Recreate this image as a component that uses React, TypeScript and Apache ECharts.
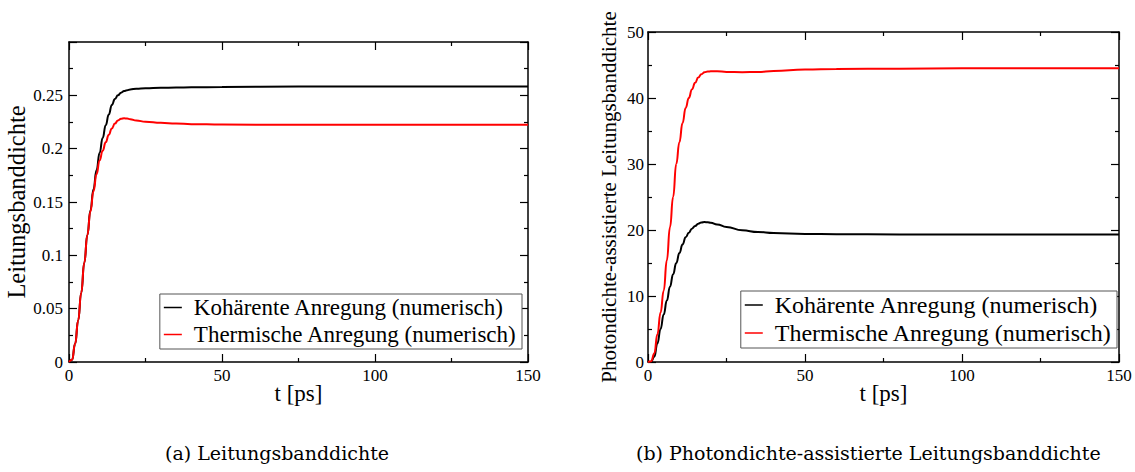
import React, { useEffect, useRef } from "react";
import * as echarts from "echarts";

// ---- data (t in ps) ----
const tLeft = [0, 1, 2, 3, 4, 5, 6, 7, 8, 9, 10, 11, 12, 13, 14, 15, 16, 17, 18, 19, 20, 22, 25, 30, 35, 40, 50, 75, 100, 150];
const leftCoherent = [0, 0.002, 0.017, 0.039, 0.065, 0.093, 0.119, 0.142, 0.162, 0.18, 0.196, 0.21, 0.222, 0.232, 0.241, 0.2465, 0.25, 0.2525, 0.254, 0.2548, 0.2555, 0.2562, 0.2566, 0.257, 0.2573, 0.2575, 0.2578, 0.2582, 0.2583, 0.2583];
const leftThermal = [0, 0.002, 0.017, 0.039, 0.065, 0.093, 0.119, 0.141, 0.16, 0.176, 0.189, 0.198, 0.206, 0.213, 0.219, 0.2235, 0.2265, 0.228, 0.2284, 0.2282, 0.2276, 0.2264, 0.2252, 0.2242, 0.2235, 0.223, 0.2226, 0.2224, 0.2224, 0.2224];

const tRight = [0, 1, 2, 3, 4, 5, 6, 7, 8, 9, 10, 11, 12, 13, 14, 15, 16, 17, 18, 19, 20, 22, 25, 30, 35, 40, 50, 60, 80, 100, 150];
const rightCoherent = [0, 0.05, 0.8, 2.8, 5.0, 7.2, 9.3, 11.4, 13.3, 15.0, 16.5, 17.8, 18.9, 19.6, 20.2, 20.6, 20.95, 21.15, 21.2, 21.18, 21.1, 20.85, 20.45, 19.95, 19.7, 19.55, 19.4, 19.37, 19.33, 19.3, 19.3];
const rightThermal = [0, 0.1, 1.3, 4.2, 7.5, 10.8, 15.4, 20.4, 25.0, 30.0, 33.3, 36.2, 38.5, 40.0, 41.3, 42.3, 43.1, 43.6, 43.9, 44.0, 44.05, 44.05, 43.95, 43.9, 43.95, 44.1, 44.3, 44.4, 44.45, 44.5, 44.5];

const xTicks = [0, 50, 100, 150];
const leftYMax = 0.3;
const rightYMax = 50;

const seriesNames = ["Kohärente Anregung (numerisch)", "Thermische Anregung (numerisch)"];
const yNames = ["Leitungsbanddichte", "Photondichte-assistierte Leitungsbanddichte"];
const captions = ["(a) Leitungsbanddichte", "(b) Photondichte-assistierte Leitungsbanddichte"];

const zip = (t: number[], v: number[]) => t.map((x, i) => [x, v[i]]);

const FONT = "'Liberation Serif', 'Times New Roman', serif";
const CAPFONT = "'DejaVu Serif', serif";

export default function App() {
  const ref = useRef<HTMLDivElement>(null);
  useEffect(() => {
    if (!ref.current) return;
    const chart = echarts.init(ref.current, undefined, { renderer: "svg" });

    const axisLine = { show: true, onZero: false, lineStyle: { color: "#000", width: 1.5 } };
    const tick = { show: true, inside: true, length: 8, lineStyle: { color: "#000", width: 1.2 } };
    const minor = { show: true, splitNumber: 2, length: 4, lineStyle: { color: "#000", width: 1.2 } };
    const label = { color: "#000", fontFamily: FONT, fontSize: 17 };

    const xAx = (gridIndex: number, position: string, main: boolean) => ({
      type: "value",
      gridIndex,
      position,
      min: xTicks[0],
      max: xTicks[xTicks.length - 1],
      interval: 50,
      axisLine,
      axisTick: tick,
      minorTick: minor,
      splitLine: { show: false },
      axisLabel: main ? { ...label, margin: 5 } : { show: false },
      name: main ? "t [ps]" : "",
      nameLocation: "middle",
      nameGap: 20,
      nameMoveOverlap: false,
      nameTextStyle: { color: "#000", fontFamily: FONT, fontSize: 23 },
    });

    const yAx = (gridIndex: number, position: string, main: boolean, max: number, interval: number, name: string, gap: number, fs: number, margin: number) => ({
      type: "value",
      gridIndex,
      position,
      min: 0,
      max,
      interval,
      axisLine,
      axisTick: tick,
      minorTick: minor,
      splitLine: { show: false },
      axisLabel: main
        ? {
            ...label,
            margin,
            showMaxLabel: max === rightYMax,
            formatter: (v: number) => (v > max - 1e-9 && max !== rightYMax ? "" : String(v)),
          }
        : { show: false },
      name: main ? name : "",
      nameLocation: "middle",
      nameGap: gap,
      nameTextStyle: { color: "#000", fontFamily: FONT, fontSize: fs },
    });

    const line = (name: string, color: string, data: number[][], xi: number, yi: number) => ({
      type: "line",
      name,
      data,
      xAxisIndex: xi,
      yAxisIndex: yi,
      symbol: "none",
      smooth: true,
      smoothMonotone: "x",
      lineStyle: { color, width: 2 },
      itemStyle: { color },
    });

    const legend = (right: number, top: number, fs: number) => ({
      orient: "vertical",
      right,
      top,
      icon: "rect",
      itemWidth: 18,
      itemHeight: 1.5,
      itemGap: 4,
      padding: [2, 5, 3, 4],
      borderColor: "#555",
      borderWidth: 1,
      backgroundColor: "#fff",
      textStyle: { color: "#000", fontFamily: FONT, fontSize: fs, padding: [0, 0, 0, 7] },
      data: seriesNames.map((n) => ({ name: n })),
    });

    chart.setOption({
      animation: false,
      backgroundColor: "#fff",
      grid: [
        { left: 69, top: 42, width: 459, height: 320 },
        { left: 648, top: 32, width: 471, height: 330 },
      ],
      xAxis: [xAx(0, "bottom", true), xAx(0, "top", false), xAx(1, "bottom", true), xAx(1, "top", false)],
      yAxis: [
        yAx(0, "left", true, leftYMax, 0.05, yNames[0], 37, 24.5, 6),
        yAx(0, "right", false, leftYMax, 0.05, "", 0, 0, 0),
        yAx(1, "left", true, rightYMax, 10, yNames[1], 29, 21, 4),
        yAx(1, "right", false, rightYMax, 10, "", 0, 0, 0),
      ],
      legend: [legend(1135 - 522, 294, 23), legend(1135 - 1117, 291, 24)],
      series: [
        line(seriesNames[0], "#000000", zip(tLeft, leftCoherent), 0, 0),
        line(seriesNames[1], "#ff0000", zip(tLeft, leftThermal), 0, 0),
        line(seriesNames[0], "#000000", zip(tRight, rightCoherent), 2, 2),
        line(seriesNames[1], "#ff0000", zip(tRight, rightThermal), 2, 2),
      ],
      graphic: [
        {
          type: "text",
          left: 165,
          top: 443,
          style: { text: captions[0], fontFamily: CAPFONT, fontSize: 19, fill: "#000" },
        },
        {
          type: "text",
          left: 636,
          top: 443,
          style: { text: captions[1], fontFamily: CAPFONT, fontSize: 19, fill: "#000" },
        },
      ],
    });

    return () => chart.dispose();
  }, []);
  return <div ref={ref} style={{ position: "fixed", left: 0, top: 0, width: 1135, height: 472 }} />;
}
